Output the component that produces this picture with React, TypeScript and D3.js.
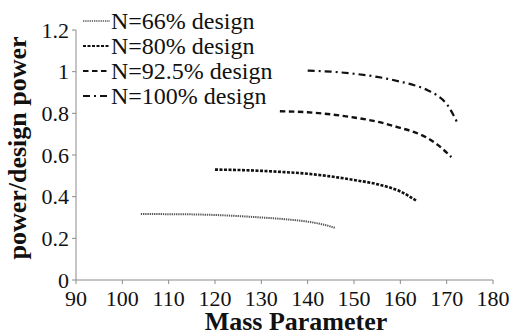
import React from "react";
import * as d3 from "d3";

const xTicks = [90, 100, 110, 120, 130, 140, 150, 160, 170, 180];
const yTicks = [0, 0.2, 0.4, 0.6, 0.8, 1, 1.2];
const yTickLabels = ["0", "0.2", "0.4", "0.6", "0.8", "1", "1.2"];

const seriesNames = ["N=66% design", "N=80% design", "N=92.5% design", "N=100% design"];

const mass66 = [104, 110, 115, 120, 125, 130, 135, 140, 143, 146];
const pow66 = [0.317, 0.316, 0.315, 0.312, 0.307, 0.3, 0.292, 0.28, 0.268, 0.25];

const mass80 = [120, 125, 130, 135, 140, 145, 150, 155, 160, 163.5];
const pow80 = [0.53, 0.528, 0.524, 0.518, 0.51, 0.497, 0.48, 0.46, 0.425, 0.38];

const mass925 = [134, 140, 145, 150, 155, 160, 163, 166, 168, 171];
const pow925 = [0.81, 0.805, 0.795, 0.78, 0.76, 0.73, 0.71, 0.68, 0.65, 0.59];

const mass100 = [140, 145, 150, 155, 160, 163, 166, 168, 170, 172.3];
const pow100 = [1.005, 1.0, 0.99, 0.975, 0.952, 0.935, 0.91, 0.885, 0.845, 0.755];

const seriesMass = [mass66, mass80, mass925, mass100];
const seriesPow = [pow66, pow80, pow925, pow100];

const styles = [
  { dash: "1.3 0.9", width: 2, color: "#555" },
  { dash: "3 1.5", width: 2.6, color: "#111" },
  { dash: "5.5 3.5", width: 2.4, color: "#111" },
  { dash: "7 4 2 4", width: 2.2, color: "#111" },
];

const FONT = "Liberation Serif, Times New Roman, Times, DejaVu Serif, serif";

export default function App() {
  const W = 513, H = 336;
  const x = d3.scaleLinear().domain([90, 180]).range([76, 493]);
  const y = d3.scaleLinear().domain([0, 1.2]).range([280, 30]);
  const line = d3
    .line<[number, number]>()
    .x((d) => x(d[0]))
    .y((d) => y(d[1]))
    .curve(d3.curveMonotoneX);
  const ts = { fontFamily: FONT };

  return (
    <svg width={W} height={H} style={{ position: "absolute", left: 0, top: 0, background: "#fff", fontFamily: FONT }}>
      <rect width={W} height={H} fill="#fff" />
      <line x1={x(90)} x2={x(180)} y1={y(0)} y2={y(0)} stroke="#8a8a8a" strokeWidth={1} />
      <line x1={x(90)} x2={x(90)} y1={y(0)} y2={y(1.2)} stroke="#8a8a8a" strokeWidth={1} />
      {xTicks.map((t) => (
        <g key={"xt" + t}>
          <line x1={x(t)} x2={x(t)} y1={y(0)} y2={y(0) + 4} stroke="#8a8a8a" />
          <text x={x(t)} y={306} textAnchor="middle" style={ts} fontSize={22} fill="#111">
            {t}
          </text>
        </g>
      ))}
      {yTicks.map((t, i) => (
        <g key={"yt" + t}>
          <line x1={x(90) - 4} x2={x(90)} y1={y(t)} y2={y(t)} stroke="#8a8a8a" />
          <text x={69} y={y(t) + 7.5} textAnchor="end" style={ts} fontSize={22} fill="#111">
            {yTickLabels[i]}
          </text>
        </g>
      ))}
      {seriesMass.map((ms, i) => (
        <path
          key={"s" + i}
          d={line(ms.map((m, j) => [m, seriesPow[i][j]]) as [number, number][]) || ""}
          fill="none"
          stroke={styles[i].color}
          strokeWidth={styles[i].width}
          strokeDasharray={styles[i].dash}
        />
      ))}
      {seriesNames.map((n, i) => {
        const cy = 21 + i * 25;
        return (
          <g key={"lg" + i}>
            <line
              x1={83}
              x2={110}
              y1={cy}
              y2={cy}
              stroke={styles[i].color}
              strokeWidth={styles[i].width * 0.8}
              strokeDasharray={styles[i].dash}
            />
            <text x={111} y={cy + 8} style={ts} fontSize={24} fill="#111">
              {n}
            </text>
          </g>
        );
      })}
      <text x={296} y={330} textAnchor="middle" style={ts} fontSize={26} fontWeight="bold" fill="#111">
        Mass Parameter
      </text>
      <text
        transform={`translate(26,148) rotate(-90)`}
        textAnchor="middle"
        style={ts}
        fontSize={26}
        fontWeight="bold"
        fill="#111"
      >
        power/design power
      </text>
    </svg>
  );
}
